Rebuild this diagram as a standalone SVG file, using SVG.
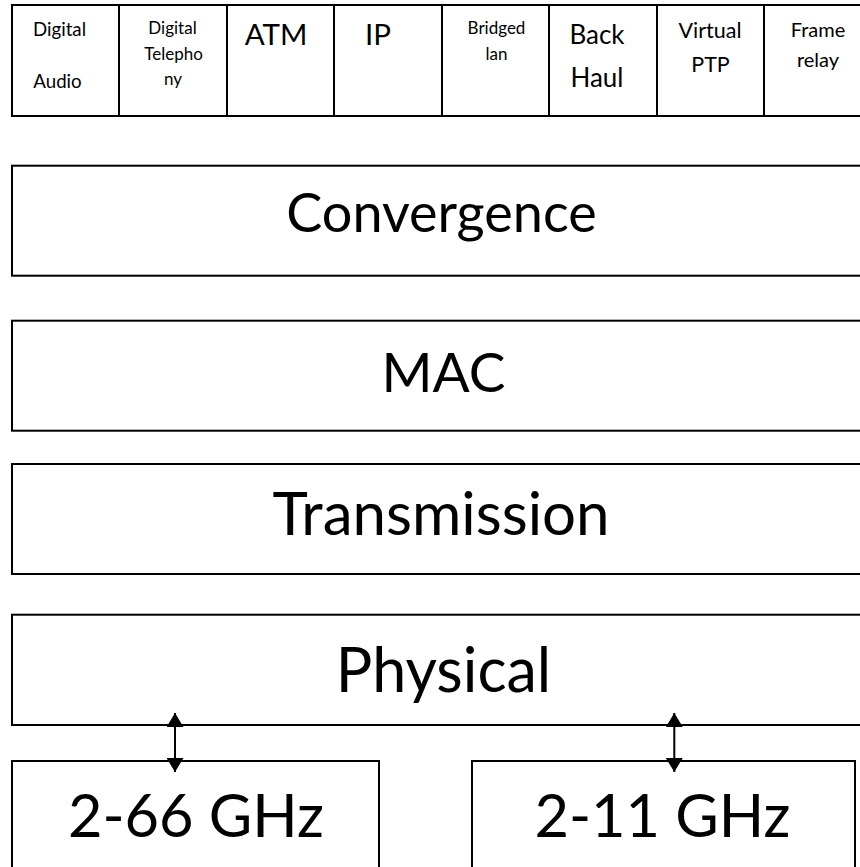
<svg xmlns="http://www.w3.org/2000/svg" width="860" height="867" viewBox="0 0 860 867">
<defs>
<style>
.box{fill:#fff;stroke:#000;stroke-width:2}
.t{font-family:Lato,"Carlito","Liberation Sans",sans-serif;fill:#000;text-anchor:middle}
.conn{stroke:#000;stroke-width:2;fill:none}
</style>
<marker id="ah" viewBox="0 0 14 17" refX="14" refY="8.5" markerWidth="14" markerHeight="17" markerUnits="userSpaceOnUse" orient="auto-start-reverse">
<path d="M0,0 L14,8.5 L0,17 z" fill="#000"/>
</marker>
</defs>
<rect width="860" height="867" fill="#fff"/>
<g id="app-row">
<g id="digital-audio"><rect class="box" x="12" y="5" width="107" height="111"/>
<text class="t" x="59.5" y="35.7" font-size="18.7">Digital</text><text class="t" x="57.5" y="88.3" font-size="18.7">Audio</text></g>
<g id="digital-telephony"><rect class="box" x="119" y="5" width="108" height="111"/>
<text class="t" x="172.5" y="34.3" font-size="17">Digital</text><text class="t" x="173.5" y="60" font-size="17">Telepho</text><text class="t" x="173" y="85" font-size="17">ny</text></g>
<g id="atm"><rect class="box" x="227" y="5" width="107" height="111"/>
<text class="t" x="276" y="45" font-size="29.5">ATM</text></g>
<g id="ip"><rect class="box" x="334" y="5" width="108" height="111"/>
<text class="t" x="378" y="45" font-size="29.5">IP</text></g>
<g id="bridged-lan"><rect class="box" x="442" y="5" width="107" height="111"/>
<text class="t" x="496.5" y="34.3" font-size="17">Bridged</text><text class="t" x="496.5" y="60" font-size="17">lan</text></g>
<g id="back-haul"><rect class="box" x="549" y="5" width="108" height="111"/>
<text class="t" x="597" y="44" font-size="26">Back</text><text class="t" x="597" y="86.7" font-size="26">Haul</text></g>
<g id="virtual-ptp"><rect class="box" x="657" y="5" width="107" height="111"/>
<text class="t" x="710" y="38.3" font-size="21.5">Virtual</text><text class="t" x="710.5" y="71.5" font-size="21.5">PTP</text></g>
<g id="frame-relay"><rect class="box" x="764" y="5" width="108" height="111"/>
<text class="t" x="818" y="36.7" font-size="20">Frame</text><text class="t" x="818" y="66.7" font-size="20">relay</text></g>
</g>
<g id="convergence"><rect class="box" x="12" y="165.7" width="860" height="110"/>
<text class="t" x="441.5" y="231.7" font-size="54">Convergence</text></g>
<g id="mac"><rect class="box" x="12" y="320.7" width="860" height="110"/>
<text class="t" x="443.5" y="391.7" font-size="55">MAC</text></g>
<g id="transmission"><rect class="box" x="12" y="464" width="860" height="110"/>
<text class="t" x="441" y="535" font-size="60">Transmission</text></g>
<g id="physical"><rect class="box" x="12" y="614.7" width="860" height="110.3"/>
<text class="t" x="443.5" y="691.7" font-size="61">Physical</text></g>
<g id="band-2-66"><rect class="box" x="12" y="761" width="367" height="120"/>
<text class="t" x="196" y="836.7" font-size="59.5">2-66 GHz</text></g>
<g id="band-2-11"><rect class="box" x="472" y="761" width="383" height="120"/>
<text class="t" x="662.5" y="836.7" font-size="59.5">2-11 GHz</text></g>
<g id="connectors">
<line class="conn" x1="175" y1="713" x2="175" y2="772" marker-start="url(#ah)" marker-end="url(#ah)"/>
<line class="conn" x1="674.3" y1="713" x2="674.3" y2="772" marker-start="url(#ah)" marker-end="url(#ah)"/>
</g>
</svg>
